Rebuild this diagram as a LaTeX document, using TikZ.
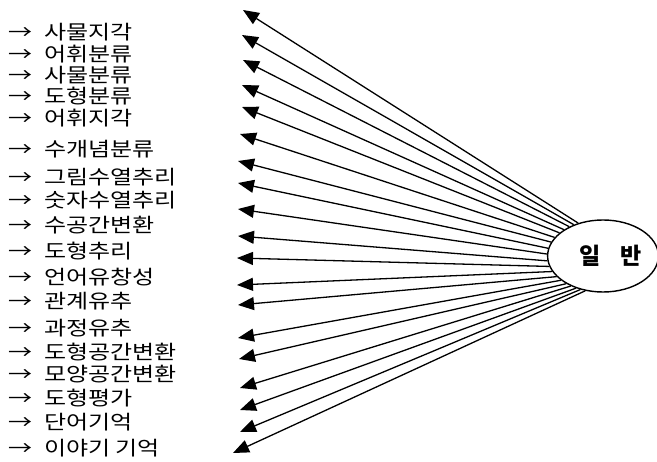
\documentclass[tikz,border=0pt]{standalone}
\usepackage{fontspec}
\usepackage{graphicx}
\setmainfont{Noto Sans CJK KR}
\newfontfamily\kor{Noto Sans CJK KR}
\usetikzlibrary{arrows.meta,shapes.geometric}
\newcommand{\rowlabel}[1]{\scalebox{1}[0.82]{\hspace*{2pt}{\fontsize{24}{24}\selectfont→}\hspace{12pt}#1}}
\tikzset{
  rowtext/.style={anchor=west, inner sep=0pt, font=\kor\fontsize{24}{24}\selectfont},
  tipline/.style={line width=1.3pt, -{Triangle[length=16pt,width=13pt]}},
  hub/.style={draw, ellipse, line width=1.4pt, minimum width=102pt, minimum height=72pt, inner sep=0pt, font=\kor\bfseries\fontsize{23}{23}\selectfont}
}
\begin{document}
\begin{tikzpicture}[x=1pt,y=-1pt]
\useasboundingbox (0,0) rectangle (657,462);
% rows
\foreach \n/\yy/\txt in {1/32/사물지각, 2/54/어휘분류, 3/75/사물분류, 4/96/도형분류, 5/118/어휘지각, 6/149/수개념분류, 7/177/그림수열추리, 8/200/숫자수열추리, 9/225/수공간변환, 10/251/도형추리, 11/277/언어유창성, 12/301/관계유추, 13/328/과정유추, 14/352/도형공간변환, 15/374/모양공간변환, 16/398/도형평가, 17/422/단어기억, 18/448/이야기 기억}
  \node[rowtext] (r\n) at (6,\yy) {\rowlabel{\txt}};
% hub
\node[hub] (e) at (603,256) {\hspace*{16pt}일\hspace{20pt}반};
% arrow tips
\foreach \n/\xx/\yy in {1/243/10, 2/242/35, 3/243/60, 4/242/85, 5/242/107, 6/240/134, 7/238/161, 8/238/183, 9/238/209, 10/238/236, 11/237/258, 12/237/285, 13/238/305, 14/238/338, 15/239/359, 16/240/388, 17/240/410, 18/240/432, 19/233/453}
  \coordinate (t\n) at (\xx,\yy);
\foreach \n in {1,...,19}{
  \pgfmathsetmacro\ang{127+(\n-1)*116/18}
  \draw[tipline] (e.\ang) -- (t\n);
}
\end{tikzpicture}
\end{document}
